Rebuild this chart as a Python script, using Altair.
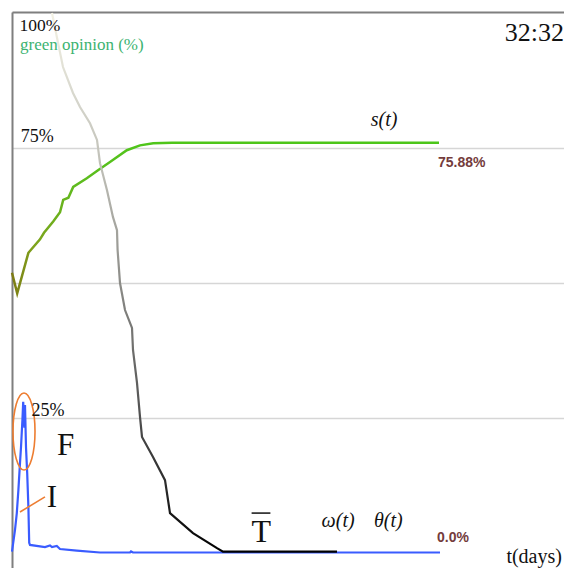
import altair as alt
import pandas as pd

# ---- data (t in arbitrary day units, values in %) ----
s_t = [0, 1.3, 4.1, 7.0, 8.0, 10.3, 12.0, 12.8, 14.1, 15.3, 18.7, 21.5, 24.5, 28.7, 32.0, 35.3, 40.0, 106.75]
s_v = [51.8, 48.0, 55.5, 58.0, 59.2, 61.3, 63.0, 65.3, 65.7, 67.7, 69.3, 70.8, 72.3, 74.5, 75.4, 75.8, 75.88, 75.88]

tbar_t = [10, 11.2, 12.75, 15.25, 17, 19.5, 21.25, 22, 23.75, 25.25, 26.25, 26.4, 27, 28.25, 30, 30.25,
          31.25, 32, 32.5, 35.25, 38.25, 39.5, 45.25, 51.25, 52.75, 81.25]
tbar_v = [99.9, 95.5, 89.9, 85.1, 82.5, 79.5, 76.4, 72.1, 67.1, 62.1, 59.7, 56.0, 49.9, 44.9, 41.6, 37.5,
          31.4, 25.1, 21.4, 17.7, 13.4, 7.3, 3.6, 0.8, 0.15, 0.15]

f_t = [0, 0.75, 1.2, 1.6, 2.0, 2.25, 2.6, 2.8, 3.1, 3.25, 3.5, 3.8, 4.1, 4.3, 4.5, 8.25, 9.5, 10, 11.2,
       12, 16.2, 22, 29.5, 29.75, 30.25, 107]
f_v = [0.15, 4.2, 7.3, 11.6, 16.6, 19.5, 24.5, 27.9, 23.1, 27.3, 19.5, 14.7, 8.4, 1.8, 1.4, 1.0, 1.3, 1.0,
       1.2, 0.65, 0.35, 0.0, 0.0, 0.2, 0.0, 0.0]

grid_values = [25, 50, 75]

# text labels
serif_txt = ["100%", "green opinion (%)", "75%", "25%", "F", "I", "T", "t(days)"]
serif_t = [1.875, 2.0, 2.2, 4.9, 11.25, 8.7, 59.9, 123.6]
serif_v = [96.6, 93.0, 76.1, 25.3, 18.1, 8.4, 2.0, -2.0]
serif_fs = [17.5, 17, 18, 18, 31, 31, 32, 20]
serif_col = ["#111111", "#3cb371", "#111111", "#111111", "#111111", "#111111", "#111111", "#111111"]

clock_txt = ["32:32"]
clock_t = [138]
clock_v = [94.8]

ital_txt = ["s(t)", "\u03c9(t)", "\u03b8(t)"]
ital_t = [89.7, 77.4, 90.5]
ital_v = [79.0, 4.7, 4.7]

bold_txt = ["75.88%", "0.0%"]
bold_t = [106.5, 106.25]
bold_v = [71.4, 2.0]

overbar_t, overbar_t2, overbar_v = [59.9], [64.6], [7.3]

ellipse_t = [3.0]
ellipse_v = [22.4]
pointer_t, pointer_t2 = [8.25], [2.0]
pointer_v, pointer_v2 = [10.3], [7.5]

# ---- scales / axes ----
W, H = 552, 556
xs = alt.Scale(domain=[0, 138], nice=False, zero=False)
ys = alt.Scale(domain=[-2.87, 100.093], nice=False, zero=False)
x_axis = alt.Axis(orient="top", labels=False, ticks=False, grid=False,
                  domain=True, domainColor="#7f7f7f", domainWidth=2, title=None)
y_axis = alt.Axis(values=grid_values, labels=False, ticks=False, grid=True,
                  gridColor="#d6d6d6", gridWidth=1.5, domain=True,
                  domainColor="#7f7f7f", domainWidth=2, title=None)

X = lambda f: alt.X(f, type="quantitative", scale=xs, axis=x_axis, title=None)
Y = lambda f: alt.Y(f, type="quantitative", scale=ys, axis=y_axis, title=None)

green_grad = alt.LinearGradient(gradient="linear", x1=0, x2=1, y1=0, y2=0, stops=[
    alt.GradientStop(offset=0, color="#7d7a14"),
    alt.GradientStop(offset=0.05, color="#7fa21c"),
    alt.GradientStop(offset=0.15, color="#5fbb1e"),
    alt.GradientStop(offset=0.3, color="#4fc51a"),
    alt.GradientStop(offset=1, color="#4cc61a"),
])
gray_grad = alt.LinearGradient(gradient="linear", x1=0, x2=0, y1=0, y2=1, stops=[
    alt.GradientStop(offset=0, color="#f4f2e4"),
    alt.GradientStop(offset=0.15, color="#d8d8ce"),
    alt.GradientStop(offset=0.3, color="#bcbcb4"),
    alt.GradientStop(offset=0.5, color="#8c8c88"),
    alt.GradientStop(offset=0.75, color="#505050"),
    alt.GradientStop(offset=0.88, color="#2a2a2a"),
    alt.GradientStop(offset=1, color="#000000"),
])

green = alt.Chart(pd.DataFrame({"t": s_t, "v": s_v})).mark_line(
    color=green_grad, strokeWidth=2.5).encode(x=X("t"), y=Y("v"))
blue = alt.Chart(pd.DataFrame({"t": f_t, "v": f_v})).mark_line(
    color="#3a5cff", strokeWidth=2.2).encode(x=X("t"), y=Y("v"))
gray = alt.Chart(pd.DataFrame({"t": tbar_t, "v": tbar_v})).mark_line(
    color=gray_grad, strokeWidth=2.2).encode(x=X("t"), y=Y("v"))

ellipse_path = ("M0,-1 C0.158,-1 0.286,-0.552 0.286,0 C0.286,0.552 0.158,1 0,1 "
                "C-0.158,1 -0.286,0.552 -0.286,0 C-0.286,-0.552 -0.158,-1 0,-1 Z")
ellipse = alt.Chart(pd.DataFrame({"t": ellipse_t, "v": ellipse_v})).mark_point(
    shape=ellipse_path, size=5929, filled=False, stroke="#ed7d31", strokeWidth=1.6, opacity=1
).encode(x=X("t"), y=Y("v"))

pointer = alt.Chart(pd.DataFrame({"t": pointer_t, "t2": pointer_t2, "v": pointer_v, "v2": pointer_v2})).mark_rule(
    color="#ed7d31", strokeWidth=1.6).encode(x=X("t"), x2="t2", y=Y("v"), y2="v2")

overbar = alt.Chart(pd.DataFrame({"t": overbar_t, "t2": overbar_t2, "v": overbar_v})).mark_rule(
    color="#111111", strokeWidth=1.5).encode(x=X("t"), x2="t2", y=Y("v"))

serif = alt.Chart(pd.DataFrame({"t": serif_t, "v": serif_v, "txt": serif_txt, "fs": serif_fs, "c": serif_col})).mark_text(
    font="Liberation Serif", align="left", baseline="alphabetic").encode(
    x=X("t"), y=Y("v"), text="txt:N",
    size=alt.Size("fs:Q", scale=None), color=alt.Color("c:N", scale=None))

clock = alt.Chart(pd.DataFrame({"t": clock_t, "v": clock_v, "txt": clock_txt})).mark_text(
    font="Liberation Serif", fontSize=26, align="right", baseline="alphabetic", color="#111111").encode(
    x=X("t"), y=Y("v"), text="txt:N")

ital = alt.Chart(pd.DataFrame({"t": ital_t, "v": ital_v, "txt": ital_txt})).mark_text(
    font="Liberation Serif", fontStyle="italic", fontSize=20, align="left", baseline="alphabetic",
    color="#111111").encode(x=X("t"), y=Y("v"), text="txt:N")

bold = alt.Chart(pd.DataFrame({"t": bold_t, "v": bold_v, "txt": bold_txt})).mark_text(
    font="Liberation Sans", fontWeight="bold", fontSize=14, align="left", baseline="alphabetic",
    color="#743c3c").encode(x=X("t"), y=Y("v"), text="txt:N")

chart = alt.layer(green, blue, gray, ellipse, pointer, overbar, serif, clock, ital, bold).properties(
    width=W, height=H,
    padding={"left": 4, "top": 4, "right": 0, "bottom": 0},
    autosize=alt.AutoSizeParams(type="none"),
).configure_view(stroke=None).configure(background="white")

chart.save("out.html", embed_options={"renderer": "svg", "actions": False})
